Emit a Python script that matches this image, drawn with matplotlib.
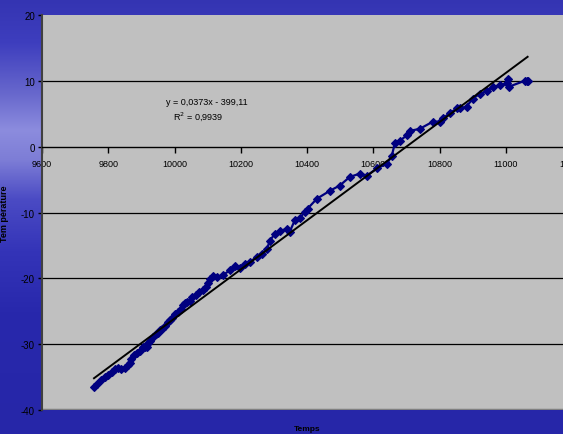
import numpy as np
import matplotlib.pyplot as plt

# data (Temps vs Température)
temps = [9757, 9766, 9778, 9790, 9799, 9811, 9820, 9829, 9838, 9850,
         9859, 9865, 9869, 9878, 9887, 9896, 9905, 9911, 9917, 9920,
         9926, 9935, 9944, 9950, 9956, 9962, 9971, 9980, 9986, 9992,
         10001, 10010, 10019, 10025, 10031, 10037, 10046, 10053, 10065, 10074,
         10086, 10095, 10101, 10107, 10116, 10128, 10146, 10167, 10182, 10197,
         10212, 10228, 10249, 10264, 10279, 10288, 10303, 10318, 10339, 10348,
         10363, 10378, 10393, 10402, 10430, 10469, 10499, 10529, 10559, 10581,
         10611, 10641, 10656, 10665, 10680, 10701, 10710, 10740, 10780, 10801,
         10810, 10831, 10852, 10861, 10882, 10900, 10921, 10943, 10961, 10982,
         11003, 11006, 11009, 11057, 11063, 11066]
temperature = [-36.5, -36.0, -35.4, -35.0, -34.7, -34.2, -33.7, -33.6, -33.7, -33.6,
               -33.1, -32.8, -32.2, -31.6, -31.3, -31.0, -30.5, -30.4, -30.4, -29.8,
               -29.5, -28.9, -28.4, -28.3, -27.8, -27.7, -27.2, -26.7, -26.4, -26.0,
               -25.4, -25.1, -24.6, -24.0, -23.7, -23.6, -23.4, -22.9, -22.5, -22.0,
               -21.7, -21.3, -20.7, -20.1, -19.6, -19.8, -19.5, -18.8, -18.2, -18.4,
               -17.8, -17.5, -16.7, -16.3, -15.5, -14.3, -13.2, -12.8, -12.5, -12.9,
               -11.2, -10.9, -9.9, -9.4, -7.9, -6.7, -5.9, -4.6, -4.1, -4.4,
               -3.3, -2.6, -1.4, 0.5, 0.9, 1.7, 2.4, 2.7, 3.8, 3.8,
               4.3, 5.1, 5.8, 5.8, 6.1, 7.3, 8.0, 8.4, 9.1, 9.3,
               9.6, 10.3, 9.1, 10.0, 9.9, 10.0]

slope, intercept = 0.0373, -399.11
r2 = 0.9939

xticks = [9600, 9800, 10000, 10200, 10400, 10600, 10800, 11000, 11200]
yticks = [-40, -30, -20, -10, 0, 10, 20]

FONT = ['Liberation Sans Narrow', 'Liberation Sans', 'DejaVu Sans']
plt.rcParams['font.family'] = FONT

fig = plt.figure(figsize=(5.63, 4.35), dpi=100)

# ── blue gradient background ─────────────────────────────────
bg = fig.add_axes([0, 0, 1, 1], zorder=-10)
bg.axis('off')
stop_pos = [0.0, 0.1, 0.22, 0.3, 0.37, 0.46, 0.58, 0.72, 1.0]
stop_col = np.array([[52, 52, 178], [62, 62, 190], [105, 105, 205],
                     [140, 140, 222], [125, 125, 214], [75, 75, 196],
                     [52, 52, 184], [40, 40, 172], [38, 38, 168]]) / 255
rows = np.linspace(0, 1, 435)
col = np.stack([np.interp(rows, stop_pos, stop_col[:, k]) for k in range(3)], axis=1)
img = np.repeat(col[:, None, :], 563, axis=1)
bg.imshow(img, aspect='auto', extent=[0, 1, 0, 1])
bg.set_xlim(0, 1)
bg.set_ylim(0, 1)

# ── chart ────────────────────────────────────────────────────
ax = fig.add_axes([42 / 563, 1 - 411 / 435, 530 / 563, 395 / 435])
ax.set_facecolor('#c0c0c0')
ax.set_xlim(9600, 11200)
ax.set_ylim(-40, 20)

for y in [10, -10, -20, -30]:
    ax.axhline(y, color='black', linewidth=0.9, zorder=1)
ax.axhline(-40, color='#808080', linewidth=2.5, zorder=1)

x = np.array(temps)
ax.plot(x, temperature, color='#000080', linewidth=1.6, marker='D',
        markersize=4.0, markeredgewidth=0.8, zorder=3)

xt = np.array([min(temps), max(temps)])
ax.plot(xt, slope * xt + intercept, color='black', linewidth=1.4, zorder=4)

ax.text(9975, 6.8, 'y = 0,0373x - 399,11', fontsize=6.5, va='center', ha='left')
ax.text(10071, 4.7, 'R$^2$ = 0,9939', fontsize=6.5, va='center', ha='center')

ax.spines['top'].set_visible(False)
ax.spines['right'].set_visible(False)
ax.spines['left'].set_color('#404040')
ax.spines['left'].set_linewidth(1.5)
ax.spines['bottom'].set_position(('data', 0))
ax.spines['bottom'].set_color('black')
ax.spines['bottom'].set_linewidth(1.0)

ax.set_xticks(xticks)
ax.set_xticklabels([str(t) for t in xticks])
ax.set_yticks(yticks)
ax.set_yticklabels([str(t) for t in yticks])
ax.tick_params(axis='x', direction='out', length=4, width=1, pad=5, labelsize=6.5)
ax.tick_params(axis='y', direction='out', length=3, width=1, pad=2, labelsize=7)

ax.set_ylabel('Tem pérature', fontsize=6.5, fontweight='bold', labelpad=9)
fig.text(307 / 563, 1 - 430 / 435, 'Temps', fontsize=6, fontweight='bold',
         ha='center', va='center')

fig.savefig('out.png', dpi=100)
plt.close()
